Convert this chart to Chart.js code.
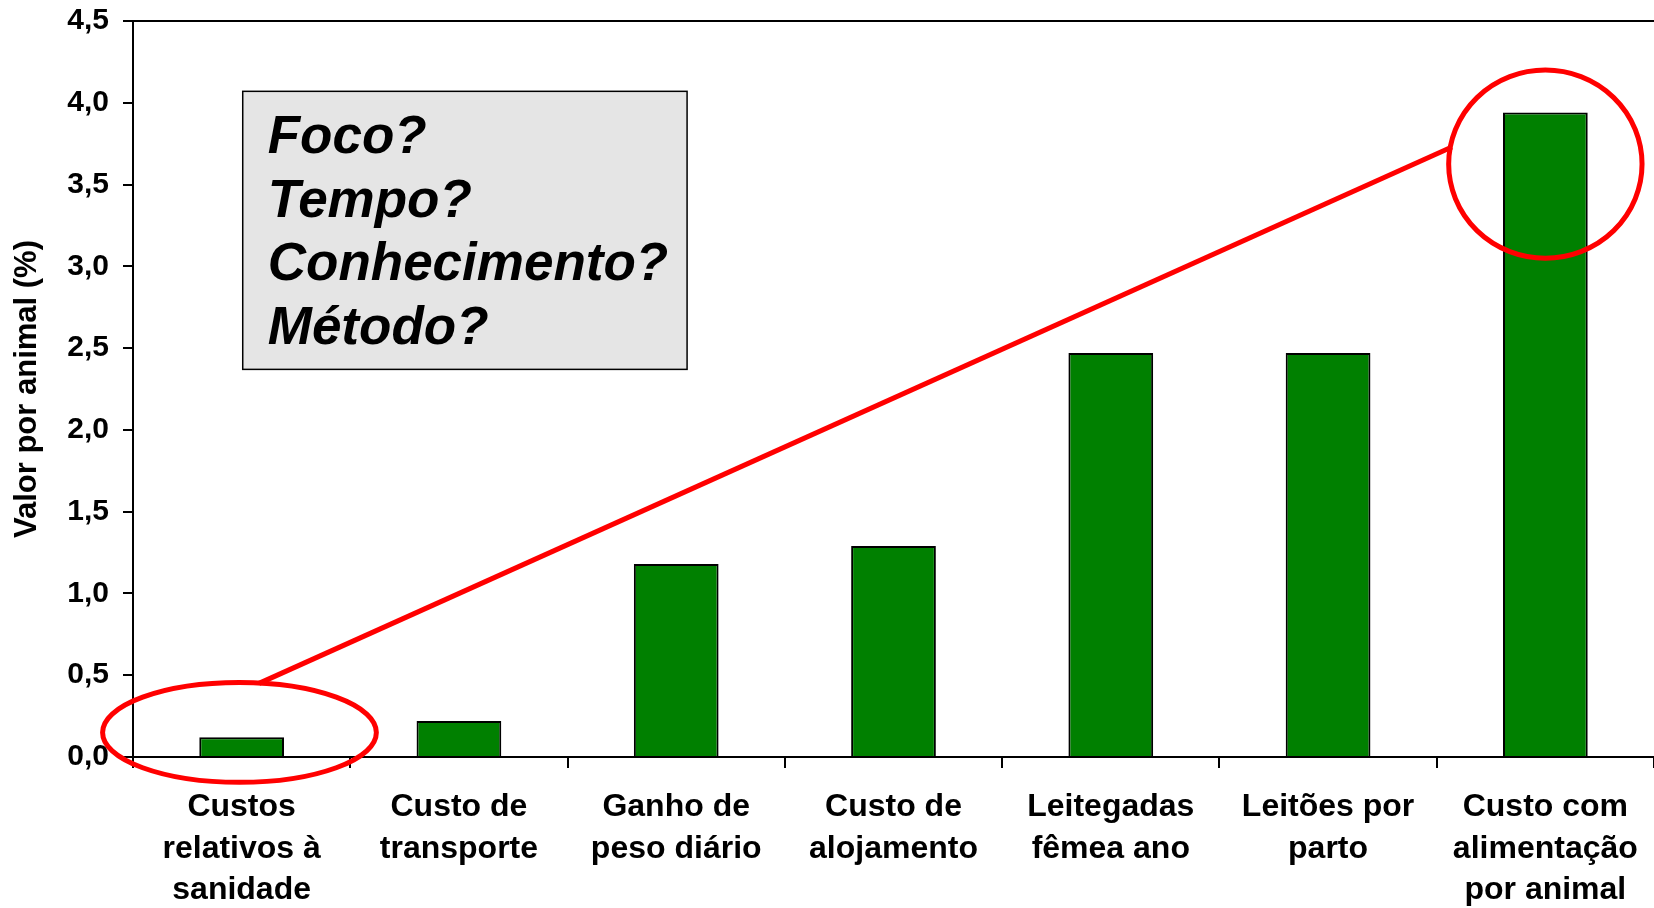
<!DOCTYPE html>
<html>
<head>
<meta charset="utf-8">
<script src="https://cdn.jsdelivr.net/npm/chart.js@4/dist/chart.umd.min.js"></script>
<style>
  html, body { margin: 0; padding: 0; background: #fff; }
  #wrap { width: 1654px; height: 908px; }
</style>
</head>
<body>
<div id="wrap"><canvas id="myChart" width="1654" height="908"></canvas></div>
<script>
const categories = [
    ['Custos', 'relativos à', 'sanidade'],
    ['Custo de', 'transporte'],
    ['Ganho de', 'peso diário'],
    ['Custo de', 'alojamento'],
    ['Leitegadas', 'fêmea ano'],
    ['Leitões por', 'parto'],
    ['Custo com', 'alimentação', 'por animal']
];
const values = [0.12, 0.22, 1.18, 1.29, 2.47, 2.47, 3.94];
const yTickLabels = ['0,0', '0,5', '1,0', '1,5', '2,0', '2,5', '3,0', '3,5', '4,0', '4,5'];
const boxLines = ['Foco?', 'Tempo?', 'Conhecimento?', 'Método?'];
const yTitle = 'Valor por animal (%)';

const FONT = '"Liberation Sans", Arial, Helvetica, sans-serif';

// callouts placed in axis units (x = category index, y = value)
const callouts = {
    box: { x0: 0.005, x1: 2.05, y0: 4.07, y1: 2.37 },
    lowRing: { cx: -0.01, cy: 0.15, rx: 0.63, ry: 0.305 },
    highRing: { cx: 6.0, cy: 3.625, rx: 0.445, ry: 0.575 },
    link: { x0: 0.08, y0: 0.45, x1: 5.57, y1: 3.73 }
};

const calloutPlugin = {
    id: 'callouts',
    afterDraw(chart) {
        const ctx = chart.ctx;
        const xs = chart.scales.x, ys = chart.scales.y;
        const px = v => xs.getPixelForValue(v);
        const py = v => ys.getPixelForValue(v);

        ctx.save();

        // grey question box
        const b = callouts.box;
        const bx = px(b.x0), by = py(b.y0);
        const bw = px(b.x1) - bx, bh = py(b.y1) - by;
        ctx.fillStyle = '#e5e5e5';
        ctx.fillRect(bx, by, bw, bh);
        ctx.strokeStyle = '#000';
        ctx.lineWidth = 1.5;
        ctx.strokeRect(bx, by, bw, bh);
        ctx.fillStyle = '#000';
        ctx.font = 'italic bold 53px ' + FONT;
        ctx.textBaseline = 'alphabetic';
        ctx.textAlign = 'left';
        boxLines.forEach((t, i) => ctx.fillText(t, bx + 25, by + 62 + i * 63.5));

        // red rings and the line joining them
        ctx.strokeStyle = '#ff0000';
        ctx.lineWidth = 5;
        [callouts.lowRing, callouts.highRing].forEach(r => {
            const cx = px(r.cx), cy = py(r.cy);
            const rx = Math.abs(px(r.cx + r.rx) - cx);
            const ry = Math.abs(py(r.cy + r.ry) - cy);
            ctx.beginPath();
            ctx.ellipse(cx, cy, rx, ry, 0, 0, Math.PI * 2);
            ctx.stroke();
        });
        const l = callouts.link;
        ctx.beginPath();
        ctx.moveTo(px(l.x0), py(l.y0));
        ctx.lineTo(px(l.x1), py(l.y1));
        ctx.stroke();

        ctx.restore();
    }
};

const ctx = document.getElementById('myChart');
new Chart(ctx, {
    type: 'bar',
    data: {
        labels: categories,
        datasets: [{
            data: values,
            backgroundColor: '#008000',
            borderColor: '#000',
            borderWidth: 2,
            categoryPercentage: 1,
            barPercentage: 0.39
        }]
    },
    options: {
        responsive: false,
        animation: false,
        layout: { padding: { top: 21, right: 0, bottom: 0, left: 0 } },
        plugins: {
            legend: { display: false },
            tooltip: { enabled: false }
        },
        scales: {
            x: {
                offset: true,
                grid: {
                    offset: true,
                    drawOnChartArea: false,
                    color: '#000',
                    tickColor: '#000',
                    tickLength: 11,
                    lineWidth: 2
                },
                border: { color: '#000', width: 2 },
                ticks: {
                    color: '#000',
                    font: { family: FONT, size: 32, weight: 'bold', lineHeight: 1.29 },
                    padding: 19,
                    maxRotation: 0,
                    autoSkip: false
                },
                afterFit(scale) {
                    scale.height = 151;
                    scale.paddingLeft = 0;
                    scale.paddingRight = 0;
                }
            },
            y: {
                min: 0,
                max: 4.5,
                grid: {
                    color: c => (c.tick && c.tick.value === 4.5) ? '#000' : 'rgba(0,0,0,0)',
                    tickColor: '#000',
                    tickLength: 10,
                    lineWidth: 2
                },
                border: { color: '#000', width: 2 },
                ticks: {
                    stepSize: 0.5,
                    color: '#000',
                    padding: 14,
                    font: { family: FONT, size: 30, weight: 'bold' },
                    callback: (v, i) => yTickLabels[i]
                },
                title: {
                    display: true,
                    text: yTitle,
                    color: '#000',
                    font: { family: FONT, size: 31, weight: 'bold' },
                    padding: { top: 9, bottom: 0 }
                },
                afterFit(scale) {
                    scale.width = 133;
                    scale.paddingTop = 0;
                    scale.paddingBottom = 0;
                }
            }
        }
    },
    plugins: [calloutPlugin]
});
</script>
</body>
</html>
